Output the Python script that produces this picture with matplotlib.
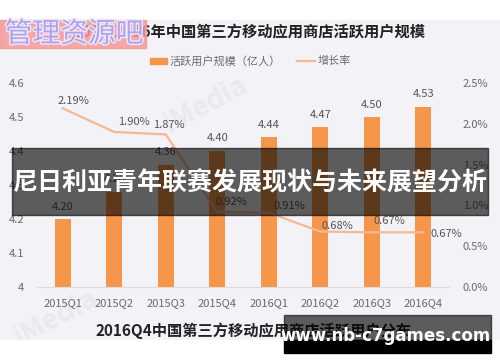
import matplotlib
matplotlib.use('Agg')
import matplotlib.pyplot as plt
import matplotlib.patheffects as pe
from matplotlib.patches import Rectangle

plt.rcParams['font.family'] = ['Noto Sans CJK SC', 'DejaVu Sans']

# data
quarters = ['2015Q1', '2015Q2', '2015Q3', '2015Q4', '2016Q1', '2016Q2', '2016Q3', '2016Q4']
users = [4.20, 4.28, 4.36, 4.40, 4.44, 4.47, 4.50, 4.53]      # 亿人
growth = [2.19, 1.90, 1.87, 0.92, 0.91, 0.68, 0.67, 0.67]     # %
left_ticks = [4.0, 4.1, 4.2, 4.3, 4.4, 4.5, 4.6]
left_labels = ['4', '4.1', '4.2', '4.3', '4.4', '4.5', '4.6']
right_ticks = [0.0, 0.5, 1.0, 1.5, 2.0, 2.5]

bar_c = '#f5964a'
line_c = '#f6b894'
txt_c = '#6a6a6a'

W, H = 500, 362
fig = plt.figure(figsize=(W/100, H/100), dpi=100)

def fx(x): return x / W
def fy(y): return 1 - y / H

# light grey screenshot background
fig.add_artist(Rectangle((0, fy(340)), 1, 320/H, transform=fig.transFigure,
                         color='#f3f2f6', zorder=-1))

# faint iMedia watermarks, under the chart
fig.text(fx(205), fy(105), 'iMedia', fontsize=20, color='#ebe9ee', rotation=28,
         ha='center', va='center', fontweight='bold', zorder=-0.5)
fig.text(fx(55), fy(318), 'iMedia', fontsize=20, color='#ebe9ee', rotation=28,
         ha='center', va='center', fontweight='bold', zorder=-0.5)

ax = fig.add_axes([fx(37), fy(287), 412/W, 204/H])
ax.set_facecolor('none')
x = list(range(len(quarters)))
ax.bar(x, users, width=0.31, color=bar_c, zorder=2)
ax.set_xlim(-0.5, 7.5)
ax.set_ylim(4.0, 4.6)
ax.set_yticks(left_ticks)
ax.set_yticklabels(left_labels)
ax.set_xticks(x)
ax.set_xticklabels(quarters)
ax.tick_params(length=0, labelsize=8, labelcolor=txt_c)
ax.tick_params(axis='y', pad=9)
ax.tick_params(axis='x', pad=8)
for s in ['top', 'left', 'right']:
    ax.spines[s].set_visible(False)
ax.spines['bottom'].set_color('#dcdcdc')

for i, v in enumerate(users):
    ax.annotate('%.2f' % v, (i, v), xytext=(0, 9), textcoords='offset points',
                ha='center', va='center', fontsize=8, color='#555555')

ax2 = ax.twinx()
ax2.plot(x, growth, color=line_c, lw=1.6, zorder=3)
ax2.set_ylim(0, 2.5)
ax2.set_yticks(right_ticks)
ax2.set_yticklabels(['%.1f%%' % t for t in right_ticks])
ax2.tick_params(length=0, labelsize=8, labelcolor=txt_c, pad=10)
for s in ['top', 'left', 'right', 'bottom']:
    ax2.spines[s].set_visible(False)

offsets = [(8, 5), (14, 7), (2, 7), (10, 7), (15, 5), (12, 4), (13, 8), (17, -1)]
for i, v in enumerate(growth):
    ax2.annotate('%.2f%%' % v, (i, v), xytext=offsets[i], textcoords='offset points',
                 ha='center', va='center', fontsize=8, color='#555555')

# titles and legend
fig.text(fx(250), fy(32), '2015-2016年中国第三方移动应用商店活跃用户规模',
         fontsize=11, fontweight='bold', color='#222222', ha='center', va='center')
fig.add_artist(Rectangle((fx(150), fy(63.5)), 17/W, 5/H, transform=fig.transFigure,
                         color=bar_c, zorder=3))
fig.text(fx(170), fy(61), '活跃用户规模（亿人）', fontsize=8, color=txt_c, va='center')
fig.add_artist(plt.Line2D([fx(297), fx(315)], [fy(61), fy(61)], transform=fig.transFigure,
                          color=line_c, lw=1.6))
fig.text(fx(318), fy(61), '增长率', fontsize=8, color=txt_c, va='center')

fig.text(fx(254), fy(331), '2016Q4中国第三方移动应用商店活跃用户分布',
         fontsize=11, fontweight='bold', color='#222222', ha='center', va='center', zorder=2)

# white bottom strip cutting the screenshot
fig.add_artist(Rectangle((0, 0), 1, fy(340), transform=fig.transFigure,
                         color='white', zorder=4))

# pink logo in the top left corner
fig.add_artist(Rectangle((0, fy(48)), 146/W, 28/H, transform=fig.transFigure,
                         color='#f59a9a', alpha=0.85, zorder=5))
fig.text(fx(74), fy(34), '管理资源吧', fontsize=20, color='#a9a4f2', ha='center',
         va='center', zorder=6,
         path_effects=[pe.withStroke(linewidth=2, foreground='#f3e6f3')])

# dark banner across the middle
fig.add_artist(Rectangle((fx(12), fy(215)), 476/W, 67/H, transform=fig.transFigure,
                         color='black', alpha=0.62, zorder=10))
fig.text(fx(250), fy(183), '尼日利亚青年联赛发展现状与未来展望分析', fontsize=18,
         fontweight='bold', color='white', ha='center', va='center', zorder=11)

# url box bottom right
fig.add_artist(Rectangle((fx(284), fy(340)), 207/W, 25/H, transform=fig.transFigure,
                         color='black', alpha=0.62, zorder=10))
fig.add_artist(Rectangle((fx(284), fy(353)), 207/W, 13/H, transform=fig.transFigure,
                         color='black', zorder=10))
fig.text(fx(386), fy(336), 'www.nb-c7games.com', fontsize=12, fontweight='bold',
         color='white', ha='center', va='center', zorder=11, family='DejaVu Sans')

fig.savefig('out.png', dpi=100)
